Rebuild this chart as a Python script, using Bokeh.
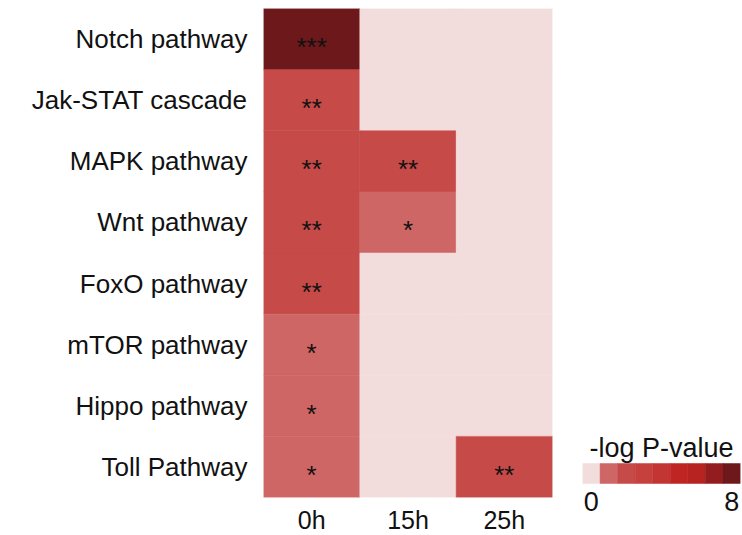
from bokeh.plotting import figure
from bokeh.models import ColumnDataSource, LinearColorMapper, FactorRange, Range1d, Label, FixedTicker
from bokeh.transform import transform
from bokeh.layouts import row
from bokeh.core.properties import value
from bokeh.embed import file_html
from bokeh.resources import INLINE

pathways = ["Notch pathway", "Jak-STAT cascade", "MAPK pathway", "Wnt pathway",
            "FoxO pathway", "mTOR pathway", "Hippo pathway", "Toll Pathway"]
times = ["0h", "15h", "25h"]
vals_0h = [7.9, 2.2, 2.2, 2.2, 2.1, 1.3, 1.3, 1.3]
vals_15h = [0.0, 0.0, 2.2, 1.3, 0.0, 0.0, 0.0, 0.0]
vals_25h = [0.0, 0.0, 0.0, 0.0, 0.0, 0.0, 0.0, 2.2]
stars_0h = ["***", "**", "**", "**", "**", "*", "*", "*"]
stars_15h = ["", "", "**", "*", "", "", "", ""]
stars_25h = ["", "", "", "", "", "", "", "**"]
legend_bins = [0, 1, 2, 3, 4, 5, 6, 7, 8]
legend_ticks = [0, 8]
legend_title = "-log P-value"
palette = ["#f2dcdc", "#cd6664", "#c54a48", "#c6403e", "#c33532",
           "#bf2522", "#b62320", "#931c1e", "#6d191b"]

FONT = "Liberation Sans"

xs, ys, vs, ts = [], [], [], []
for t, vals, stars in zip(times, [vals_0h, vals_15h, vals_25h], [stars_0h, stars_15h, stars_25h]):
    for pw, v, s in zip(pathways, vals, stars):
        xs.append(t)
        ys.append(pw)
        vs.append(v)
        ts.append(s)
src = ColumnDataSource(dict(x=xs, y=ys, v=vs, s=ts))

mapper = LinearColorMapper(palette=palette, low=-0.5, high=8.5)

p1 = figure(x_range=FactorRange(*times), y_range=FactorRange(*pathways[::-1]),
            frame_width=289, frame_height=489,
            min_border_left=263, min_border_right=16, min_border_top=8, min_border_bottom=38,
            toolbar_location=None, output_backend="svg", title=None)
p1.rect(x="x", y="y", width=1, height=1, source=src,
        fill_color=transform("v", mapper), line_color=transform("v", mapper), line_width=0.5)
p1.text(x="x", y="y", text="s", source=src, text_align="center", text_baseline="middle",
        text_font=value(FONT), text_font_size="26px", text_color="#111111", y_offset=8)

for ax in (p1.xaxis, p1.yaxis):
    ax.axis_line_color = None
    ax.major_tick_line_color = None
    ax.minor_tick_line_color = None
    ax.major_label_text_font = FONT
    ax.major_label_text_color = "#111111"
p1.yaxis.major_label_text_font_size = "26px"
p1.xaxis.major_label_text_font_size = "25px"
p1.yaxis.major_label_standoff = 10
p1.xaxis.major_label_standoff = 2
p1.xgrid.grid_line_color = None
p1.ygrid.grid_line_color = None
p1.outline_line_color = None

# legend panel: frame aligned with the heatmap frame; bar of 1 unit = 20 px
lsrc = ColumnDataSource(dict(x=legend_bins, v=legend_bins, y=[0] * len(legend_bins)))
p2 = figure(x_range=Range1d(-0.5, 8.5), y_range=Range1d(-1.2, 23.25),
            frame_width=158, frame_height=489,
            min_border_left=14, min_border_right=2, min_border_top=8, min_border_bottom=38,
            toolbar_location=None, output_backend="svg", title=None)
p2.rect(x="x", y="y", width=1, height=1, source=lsrc,
        fill_color=transform("v", mapper), line_color=transform("v", mapper), line_width=0.5)
p2.add_layout(Label(x=(legend_bins[0] + legend_bins[-1]) / 2, y=1.28, text=legend_title,
                    text_align="center", text_baseline="alphabetic",
                    text_font=FONT, text_font_size="27px", text_color="#111111"))
p2.xaxis.ticker = FixedTicker(ticks=legend_ticks)
p2.xaxis.axis_line_color = None
p2.xaxis.major_tick_line_color = None
p2.xaxis.minor_tick_line_color = None
p2.xaxis.major_label_text_font = FONT
p2.xaxis.major_label_text_font_size = "27px"
p2.xaxis.major_label_text_color = "#111111"
p2.xaxis.major_label_standoff = -12
p2.yaxis.visible = False
p2.xgrid.grid_line_color = None
p2.ygrid.grid_line_color = None
p2.outline_line_color = None

layout = row(p1, p2)
open("out.html", "w").write(file_html(layout, INLINE))
